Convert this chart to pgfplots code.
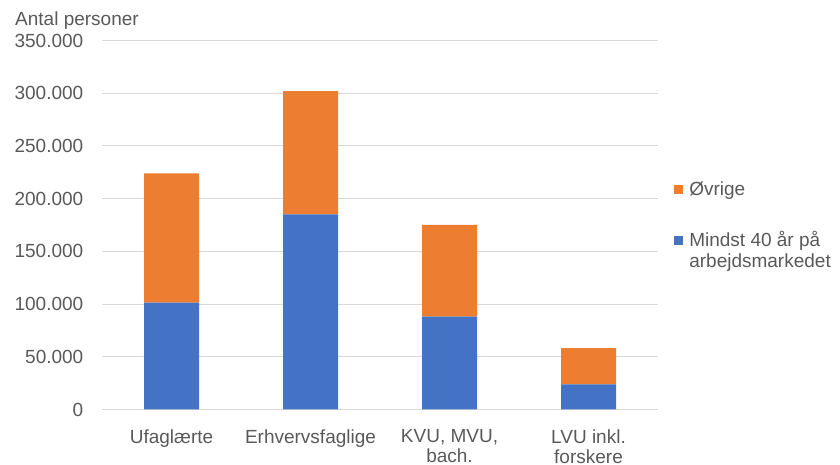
\documentclass[border=0pt]{standalone}
\usepackage{fontspec}
\setmainfont{Liberation Sans}
\usepackage{pgfplots}
\pgfplotsset{compat=1.18}
\definecolor{cblue}{HTML}{4472C4}
\definecolor{corange}{HTML}{ED7D31}
\definecolor{cgrid}{HTML}{D9D9D9}
\definecolor{ctext}{HTML}{595959}
\begin{document}
\begin{tikzpicture}[x=1pt,y=1pt]
\path[use as bounding box] (0,0) rectangle (840,465);
\node[anchor=base west, inner sep=0pt, text=ctext, font=\fontsize{19}{21.5}\selectfont] at (15,439) {Antal personer};
\begin{axis}[
  at={(102pt,55.5pt)}, anchor=south west,
  scale only axis, width=556pt, height=369pt,
  xmin=-0.5, xmax=3.5, ymin=0, ymax=350000,
  ybar stacked, bar width=55pt,
  axis line style={draw=none},
  major tick length=0pt,
  ymajorgrids, grid style={cgrid, line width=1pt},
  ytick={0,50000,100000,150000,200000,250000,300000,350000},
  yticklabels={{0},{50.000},{100.000},{150.000},{200.000},{250.000},{300.000},{350.000}},
  scaled y ticks=false,
  yticklabel style={anchor=east, inner sep=0pt, xshift=-18.5pt},
  xtick={0,1,2,3},
  xticklabels={Ufaglærte, Erhvervsfaglige, {KVU, MVU,\\bach.}, {LVU inkl.\\forskere}},
  xticklabel style={align=center, anchor=north, inner sep=0pt, yshift=-20pt},
  tick label style={text=ctext, font=\fontsize{19}{20}\selectfont},
  legend cell align=left,
  legend style={at={(1.0293,0.6165)}, anchor=north west, draw=none, fill=none,
    inner sep=0pt, outer sep=0pt, row sep=32.5pt, column sep=6pt,
    nodes={inner sep=0pt, anchor=base west, text height=13.5pt, text depth=5pt,
      text=ctext, font=\fontsize{19}{21}\selectfont}},
  legend image code/.code={\fill[#1] (0pt,1.5pt) rectangle (9pt,10.5pt);},
  reverse legend,
]
\addplot[fill=cblue, draw=none] coordinates {(0,101300) (1,185000) (2,88000) (3,23900)};
\addlegendentry{\begin{tabular}[t]{@{}l@{}}Mindst 40 år på\\arbejdsmarkedet\end{tabular}}
\addplot[fill=corange, draw=none] coordinates {(0,122700) (1,117000) (2,87000) (3,34400)};
\addlegendentry{Øvrige}
\end{axis}
\end{tikzpicture}
\end{document}
